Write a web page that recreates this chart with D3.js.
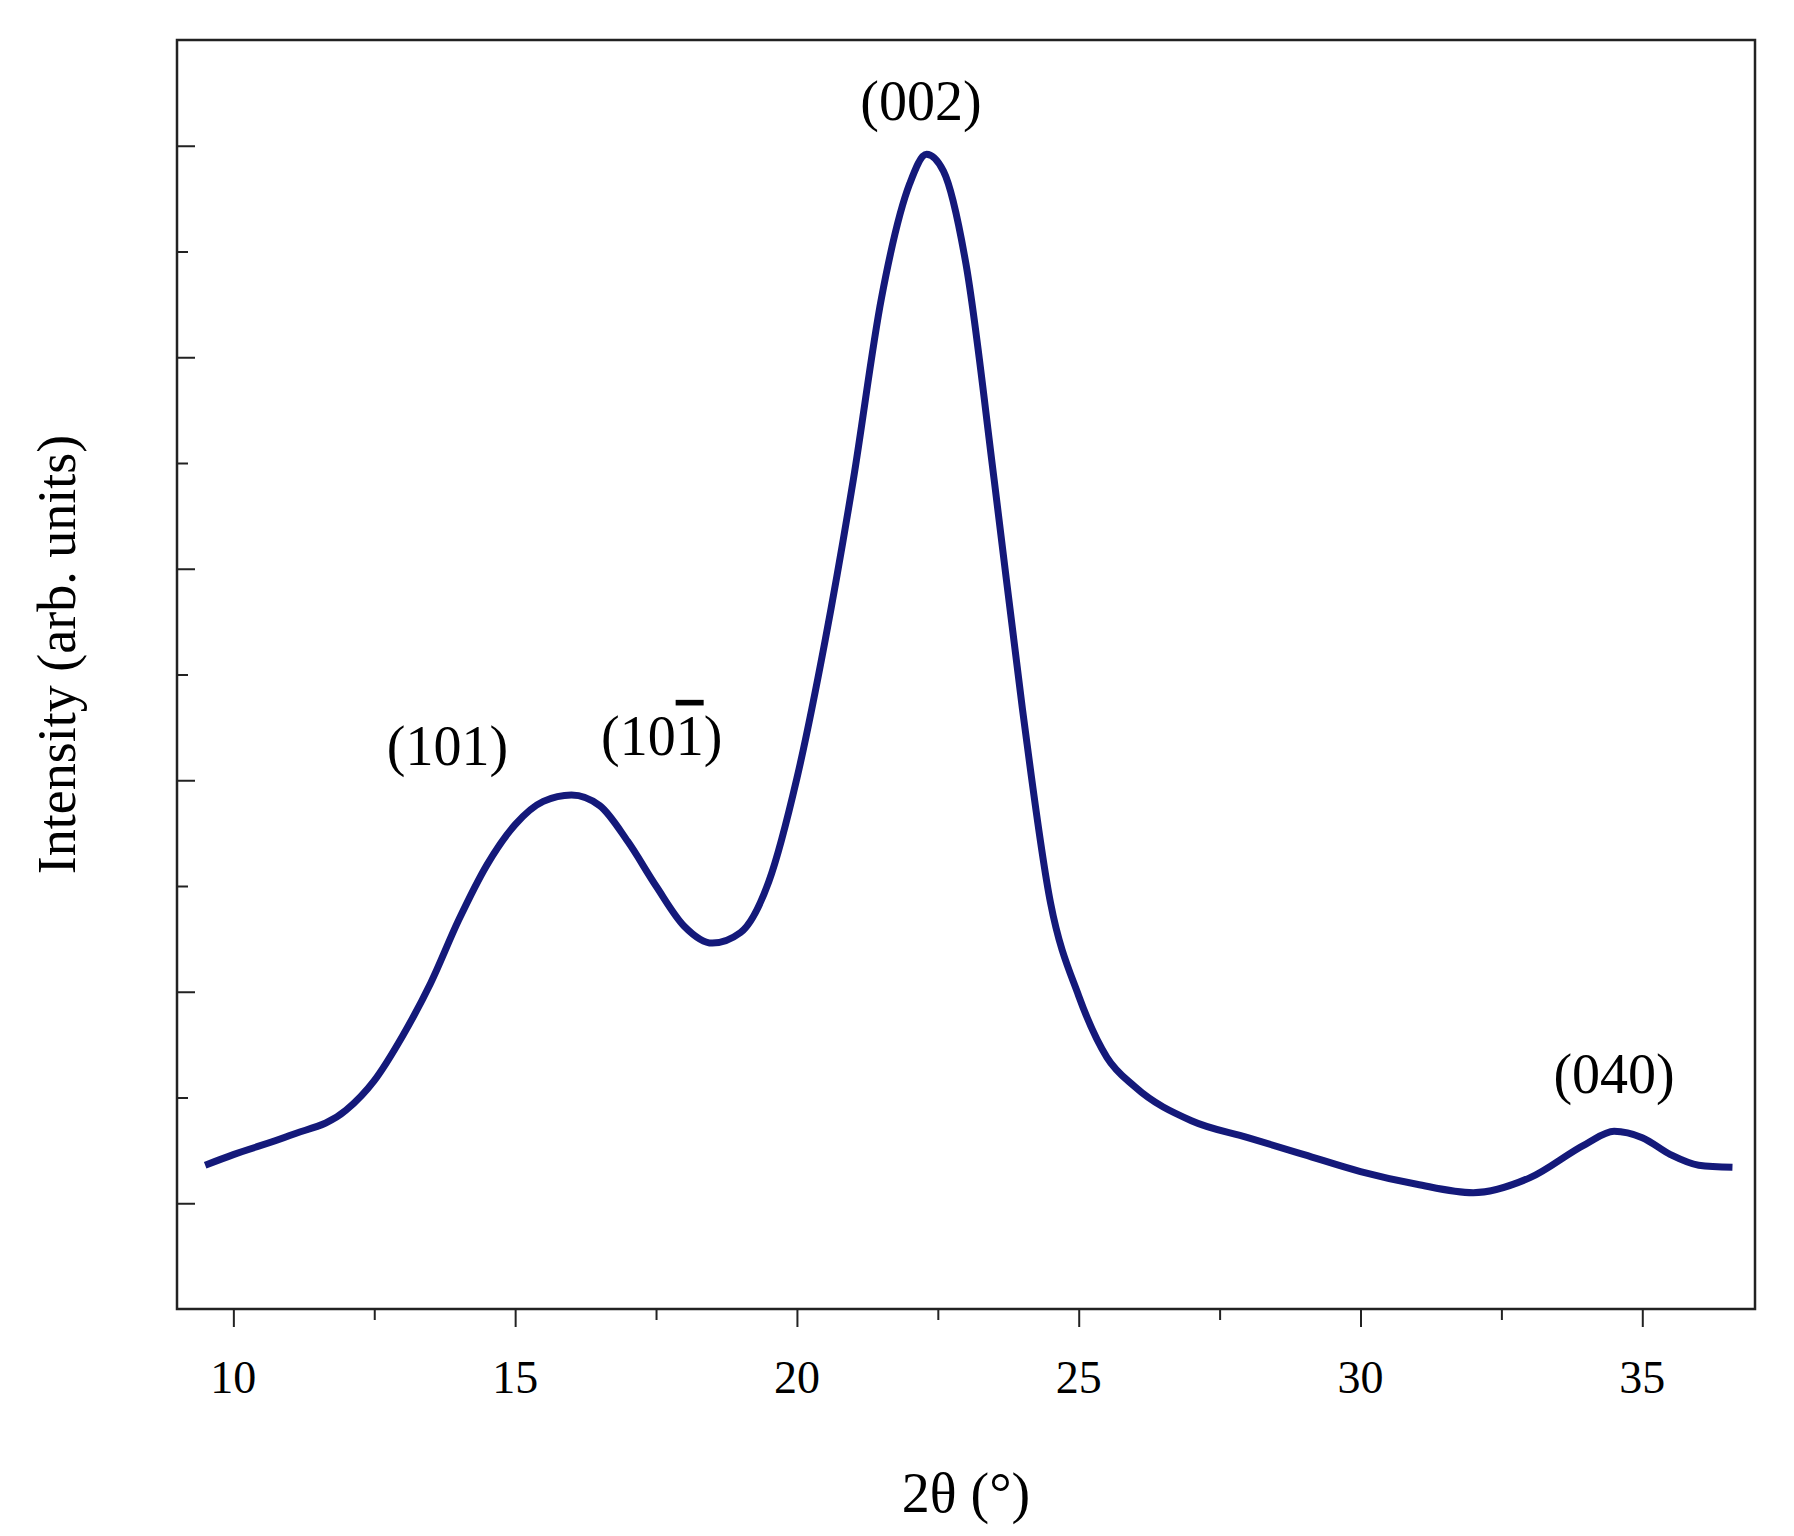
<!DOCTYPE html>
<html><head><meta charset="utf-8">
<script src="https://cdn.jsdelivr.net/npm/d3@7"></script>
<style>body{margin:0;background:#fff}</style></head>
<body><svg id="c" width="1794" height="1536"></svg>
<script>
const twoTheta = [9.5,10,11,12,12.5,13,13.5,14,14.5,15,15.5,16,16.5,17,17.5,18,18.5,19,19.5,20,20.5,21,21.5,22,22.3,22.6,23,23.5,24,24.5,25,25.5,26,27,28,29,30,31,32,33,34,34.5,35,35.5,36,36.6];
const intensity = [0.18,0.23,0.32,0.44,0.58,0.79,1.04,1.34,1.6,1.79,1.9,1.93,1.88,1.71,1.5,1.31,1.23,1.28,1.52,2.01,2.66,3.42,4.28,4.82,4.96,4.88,4.44,3.42,2.34,1.42,0.98,0.69,0.55,0.39,0.31,0.23,0.15,0.09,0.05,0.12,0.28,0.34,0.31,0.23,0.18,0.17];
const xTicks = [10,15,20,25,30,35];
const peakLabels = [{x:13.8,y:2.07,t:"(101)"},{x:17.6,y:2.12,t:"(10",bar:"1",end:")"},{x:22.2,y:5.12,t:"(002)"},{x:34.5,y:0.52,t:"(040)"}];

const svg = d3.select("#c");
const L=177,R=1755,T=40,B=1309;
const x = d3.scaleLinear().domain([9,37]).range([L,R]);
const y = d3.scaleLinear().domain([-0.5,5.5]).range([B,T]);
const font = "'Liberation Serif','Times New Roman',serif";

svg.append("rect").attr("x",L).attr("y",T).attr("width",R-L).attr("height",B-T)
  .attr("fill","none").attr("stroke","#222").attr("stroke-width",2.5);

const xa = svg.append("g").attr("transform",`translate(0,${B})`);
xa.call(d3.axisBottom(x).tickValues(d3.range(10,37.5,2.5)).tickSize(10).tickFormat(""));
xa.call(g=>g.selectAll(".tick line").attr("stroke","#222").attr("stroke-width",2).attr("y2",d=>d%5===0?18:11));
xa.select(".domain").remove();
xTicks.forEach(v=>svg.append("text").attr("x",x(v)).attr("y",1393).attr("text-anchor","middle")
  .attr("font-family",font).attr("font-size",46).text(v));

const ya = svg.append("g").attr("transform",`translate(${L},0)`);
ya.call(d3.axisRight(y).tickValues(d3.range(0,5.01,0.5)).tickFormat(""));
ya.call(g=>g.selectAll(".tick line").attr("stroke","#222").attr("stroke-width",2).attr("x2",d=>Number.isInteger(d)?18:11));
ya.select(".domain").remove();

const line = d3.line().x((d,i)=>x(twoTheta[i])).y(d=>y(d)).curve(d3.curveMonotoneX);
svg.append("path").attr("d",line(intensity)).attr("fill","none")
  .attr("stroke","#14197a").attr("stroke-width",7).attr("stroke-linejoin","round");

peakLabels.forEach(p=>{
  const t = svg.append("text").attr("x",x(p.x)).attr("y",y(p.y)).attr("text-anchor","middle")
    .attr("font-family",font).attr("font-size",56).text(p.t);
  if(p.bar){
    t.append("tspan").style("text-decoration","overline").text(p.bar);
    t.append("tspan").text(p.end);
  }
});

svg.append("text").attr("x",(L+R)/2).attr("y",1512).attr("text-anchor","middle")
  .attr("font-family",font).attr("font-size",56).text("2θ (°)");
svg.append("text").attr("transform",`translate(75,${(T+B)/2-20}) rotate(-90)`).attr("text-anchor","middle")
  .attr("font-family",font).attr("font-size",54).text("Intensity (arb. units)");
</script></body></html>
